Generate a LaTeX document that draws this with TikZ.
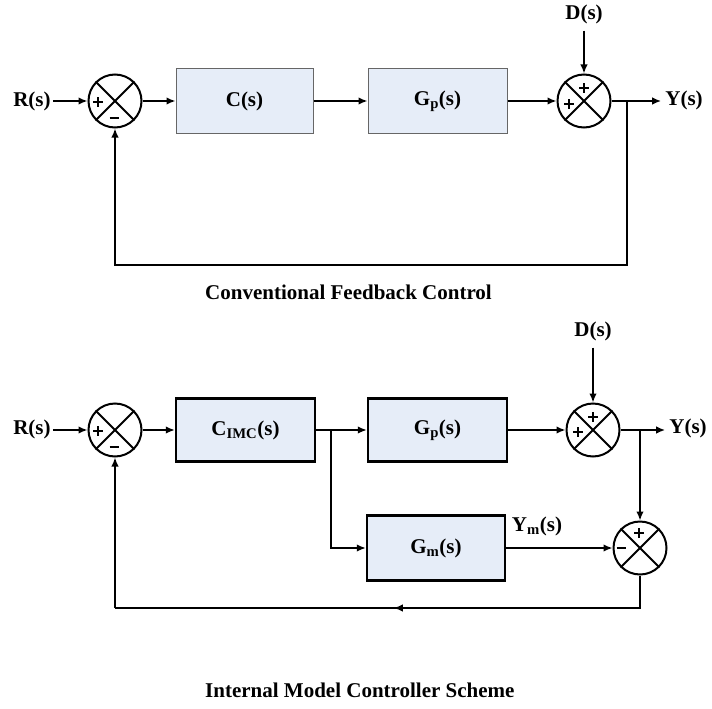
\documentclass[tikz,border=0pt]{standalone}
\usepackage{fontspec}
\setmainfont{Liberation Serif}
\usetikzlibrary{arrows.meta,calc,decorations.markings}
\definecolor{boxfill}{RGB}{230,237,248}
\tikzset{
  lbl/.style={font=\fontsize{21}{21}\selectfont\bfseries, inner sep=0pt},
  captxt/.style={font=\fontsize{21}{21}\selectfont\bfseries, inner sep=0pt, anchor=west},
  sumnode/.style={circle, draw, line width=2pt, minimum size=53pt, inner sep=0pt},
  blkA/.style={draw=black!60, line width=1pt, fill=boxfill, minimum width=137pt, minimum height=64pt, font=\fontsize{21}{21}\selectfont\bfseries},
  blkB/.style={draw=black, line width=2.4pt, fill=boxfill, minimum width=139pt, minimum height=63pt, font=\fontsize{21}{21}\selectfont\bfseries},
  signline/.style={line width=2.2pt},
  con/.style={line width=1.6pt, -{Latex[length=9pt,width=7.5pt]}},
  wire/.style={line width=1.6pt},
  midarrow/.style={decoration={markings, mark=at position #1 with {\arrow{Latex[length=9pt,width=7.5pt]}}}, postaction={decorate}}
}
\newcommand{\crossit}[1]{\draw[line width=2pt] (#1.45) -- (#1.225) (#1.135) -- (#1.315);}
\newcommand{\plusmark}[3]{\draw[signline] ($(#1.center)+(#2,#3)+(-5,0)$) -- ++(10,0) ($(#1.center)+(#2,#3)+(0,-5)$) -- ++(0,10);}
\newcommand{\minusmark}[3]{\draw[signline] ($(#1.center)+(#2,#3)+(-4.5,0)$) -- ++(9,0);}
\begin{document}
\begin{tikzpicture}[x=1pt,y=-1pt]
\useasboundingbox (0,0) rectangle (712,709);
% ---------- Top diagram ----------
\node[lbl] (R1) at (32,101) {R(s)};
\node[sumnode] (S1) at (115,101) {};
\crossit{S1}
\plusmark{S1}{-17}{1}
\minusmark{S1}{-1}{17}
\node[blkA] (C1) at (244.5,101) {C(s)};
\node[blkA, minimum width=139pt] (G1) at (437.5,101) {G\textsubscript{p}(s)};
\node[sumnode] (S2) at (584,101) {};
\crossit{S2}
\plusmark{S2}{0}{-13}
\plusmark{S2}{-15}{3}
\node[lbl] (D1) at (584,14) {D(s)};
\node[lbl] (Y1) at (684,100) {Y(s)};
\coordinate (B1) at (627,101);
\coordinate (F1a) at (627,265);
\coordinate (F1b) at (115,265);
\draw[con] (R1.east) ++(2,0) -- (S1.west);
\draw[con] (S1.east) -- (C1.west);
\draw[con] (C1.east) -- (G1.west);
\draw[con] (G1.east) -- (S2.west);
\draw[con] (D1.south) ++(0,7) -- (S2.north);
\draw[con] (S2.east) -- ($(Y1.west)+(-4,1)$);
\draw[con] (B1) -- (F1a) -- (F1b) -- (S1.south);
\node[captxt] (T1) at (205,292) {Conventional Feedback Control};
% ---------- Bottom diagram ----------
\node[lbl] (R2) at (32,429) {R(s)};
\node[sumnode] (S3) at (115,430) {};
\crossit{S3}
\plusmark{S3}{-17}{1}
\minusmark{S3}{-1}{17}
\node[blkB] (C2) at (245.5,430) {C\textsubscript{IMC}(s)};
\node[blkB] (G2) at (437.5,430) {G\textsubscript{p}(s)};
\node[sumnode] (S4) at (593,430) {};
\crossit{S4}
\plusmark{S4}{0}{-13}
\plusmark{S4}{-15}{2}
\node[lbl] (D2) at (593,331) {D(s)};
\node[lbl] (Y2) at (688,428) {Y(s)};
\node[blkB, minimum width=138pt, minimum height=65pt] (Gm) at (436,548) {G\textsubscript{m}(s)};
\node[sumnode] (S5) at (640,548) {};
\crossit{S5}
\plusmark{S5}{-1}{-15}
\minusmark{S5}{-19}{0}
\node[lbl] (Ym) at (537,526) {Y\textsubscript{m}(s)};
\coordinate (B2) at (640,430);
\coordinate (B3) at (331,430);
\coordinate (B3d) at (331,548);
\coordinate (F2a) at (640,608);
\coordinate (F2b) at (115,608);
\draw[con] (R2.east) ++(2,1) -- (S3.west);
\draw[con] (S3.east) -- (C2.west);
\draw[con] (C2.east) -- (G2.west);
\draw[con] (G2.east) -- (S4.west);
\draw[con] (D2.south) ++(0,7) -- (S4.north);
\draw[con] (S4.east) -- ($(Y2.west)+(-4,2)$);
\draw[con] (B2) -- (S5.north);
\draw[con] (B3) -- (B3d) -- (Gm.west);
\draw[con] (Gm.east) -- (S5.west);
\draw[wire, midarrow=0.5] (S5.south) -- (F2a) -- (F2b);
\draw[con] (F2b) -- (S3.south);
\node[captxt] (T2) at (205,690) {Internal Model Controller Scheme};
\end{tikzpicture}
\end{document}
